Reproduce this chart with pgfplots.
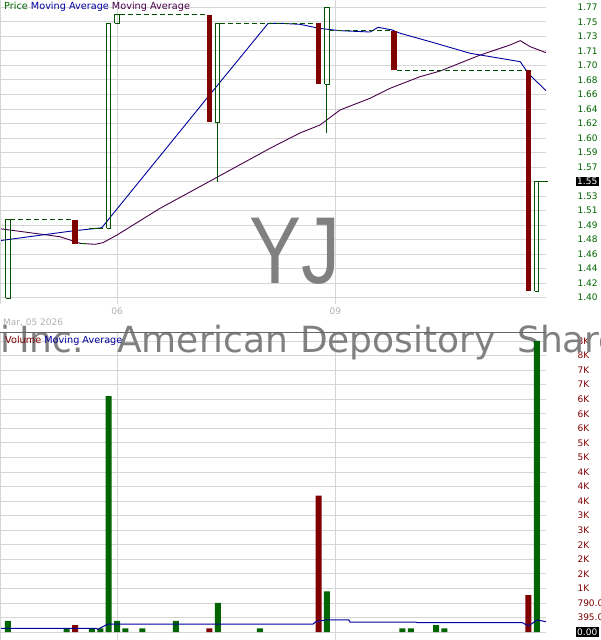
\documentclass[border=0pt]{standalone}
\usepackage{pgfplots}
\pgfplotsset{compat=1.18}
\usepackage{fontspec}
\setmainfont{DejaVu Sans}
\newfontfamily\wmfont{Liberation Sans}
\definecolor{pgreen}{RGB}{0,100,0}
\definecolor{cgreen}{RGB}{0,80,0}
\definecolor{cred}{RGB}{128,0,0}
\definecolor{mablue}{RGB}{0,0,160}
\definecolor{mapurple}{RGB}{72,0,72}
\definecolor{gridgray}{RGB}{214,214,214}
\definecolor{wmgray}{RGB}{128,128,128}
\definecolor{lblgray}{RGB}{176,176,176}
\definecolor{sepgray}{RGB}{100,100,100}
\pgfplotsset{
  redbody/.style={draw=none,fill=cred,forget plot},
  greenbody/.style={draw=cgreen,line width=1pt,fill=none,forget plot},
  gapline/.style={cgreen,line width=1pt,dash pattern=on 5pt off 3pt,forget plot},
}
\begin{document}
\begin{tikzpicture}[x=1pt,y=1pt,font=\fontsize{9}{10}\selectfont]
\useasboundingbox (0pt,0pt) rectangle (600pt,640pt);
\clip (0pt,0pt) rectangle (600pt,640pt);

% ---------------- price panel ----------------
\begin{axis}[at={(0pt,336pt)},anchor=south west,scale only axis,
  width=546pt,height=304pt,
  xmin=-0.95,xmax=64.1,ymin=1.39197,ymax=1.7793,
  axis line style={draw=none},major tick length=0pt,
  /pgf/number format/assume math mode=true,
  ytick={1.4000,1.4185,1.4370,1.4555,1.4740,1.4925,1.5110,1.5295,1.5480,1.5665,1.5850,1.6035,1.6220,1.6405,1.6590,1.6775,1.6960,1.7145,1.7330,1.7515,1.7700},
  yticklabels={1.40,1.42,1.44,1.46,1.48,1.49,1.51,1.53,1.55,1.57,1.59,1.60,1.62,1.64,1.66,1.68,1.70,1.71,1.73,1.75,1.77},
  yticklabel pos=right,
  yticklabel style={anchor=west,xshift=28pt,text=pgreen,font=\fontsize{9}{10}\selectfont},
  xtick={13,39},xticklabels={06,09},
  xticklabel style={text=lblgray,font=\fontsize{9}{10}\selectfont},
  xmajorgrids,ymajorgrids,
  grid style={gridgray,line width=0.8pt},
  clip=false]
\node[anchor=base,inner sep=0pt,text=wmgray,font=\wmfont\fontsize{95}{95}\selectfont,xscale=0.82] at (axis cs:34.15,1.4175) {YJ};
% moving averages
\addplot[mapurple,line width=0.9pt] coordinates {(-0.95,1.4879)(6.2,1.4777)(8.58,1.4693)(10.37,1.4680)(11.32,1.4701)(13.0,1.4799)(18.12,1.5139)(23.72,1.5465)(31.23,1.5904)(34.8,1.6099)(37.19,1.6201)(39.57,1.6392)(43.15,1.6541)(45.53,1.6668)(49.1,1.6816)(51.49,1.6888)(56.26,1.7092)(59.83,1.7220)(61.03,1.7275)(62.22,1.7198)(64.1,1.7122)};
\addplot[mablue,line width=0.9pt] coordinates {(-0.95,1.4727)(7.63,1.485)(10.97,1.4888)(11.2,1.4895)(23.72,1.6544)(31.0,1.7496)(32.8,1.7494)(34.8,1.7483)(37.07,1.7432)(39.57,1.7402)(43.15,1.7385)(44.1,1.7445)(45.77,1.7411)(46.72,1.7369)(50.3,1.7262)(55.06,1.7114)(61.03,1.7007)(61.98,1.6859)(64.1,1.6637)};
% gap lines
\addplot[gapline] coordinates {(0.3,1.499)(7.64,1.499)};
\addplot[gapline] coordinates {(13.3,1.7602)(23.64,1.7602)};
\addplot[gapline] coordinates {(25.3,1.7496)(36.64,1.7496)};
\addplot[gapline] coordinates {(38.3,1.7398)(45.64,1.7398)};
\addplot[gapline] coordinates {(46.36,1.6901)(61.64,1.6901)};
\addplot[cgreen,line width=1pt,forget plot] coordinates {(63.3,1.548)(64.3,1.548)};
% flat candles
\addplot[cgreen,line width=1pt,forget plot] coordinates {(8.7,1.4688)(9.3,1.4688)};
\addplot[cgreen,line width=1pt,forget plot] coordinates {(9.7,1.4884)(11.3,1.4884)};
% wicks
\addplot[cgreen,line width=1pt,forget plot] coordinates {(25,1.623)(25,1.5478)};
\addplot[cgreen,line width=1pt,forget plot] coordinates {(38,1.672)(38,1.6095)};
% red bodies
\addplot[redbody] coordinates {(7.68,1.499)(8.32,1.499)(8.32,1.4688)(7.68,1.4688)};
\addplot[redbody] coordinates {(23.68,1.7602)(24.32,1.7602)(24.32,1.6242)(23.68,1.6242)};
\addplot[redbody] coordinates {(36.68,1.7496)(37.32,1.7496)(37.32,1.6723)(36.68,1.6723)};
\addplot[redbody] coordinates {(45.68,1.7398)(46.32,1.7398)(46.32,1.6901)(45.68,1.6901)};
\addplot[redbody] coordinates {(61.68,1.6901)(62.32,1.6901)(62.32,1.409)(61.68,1.409)};
% green bodies
\addplot[greenbody] coordinates {(-0.26,1.3995)(0.26,1.3995)(0.26,1.499)(-0.26,1.499)(-0.26,1.3995)};
\addplot[greenbody] coordinates {(11.74,1.4884)(12.26,1.4884)(12.26,1.7496)(11.74,1.7496)(11.74,1.4884)};
\addplot[greenbody] coordinates {(12.74,1.7496)(13.26,1.7496)(13.26,1.7602)(12.74,1.7602)(12.74,1.7496)};
\addplot[greenbody] coordinates {(24.74,1.623)(25.26,1.623)(25.26,1.7496)(24.74,1.7496)(24.74,1.623)};
\addplot[greenbody] coordinates {(37.74,1.672)(38.26,1.672)(38.26,1.770)(37.74,1.770)(37.74,1.672)};
\addplot[greenbody] coordinates {(62.74,1.408)(63.26,1.408)(63.26,1.548)(62.74,1.548)(62.74,1.408)};
\end{axis}

% ---------------- volume panel ----------------
\begin{axis}[at={(0pt,0pt)},anchor=south west,scale only axis,
  width=546pt,height=308pt,
  xmin=-0.95,xmax=64.1,ymin=-217,ymax=8144,
  axis line style={draw=none},major tick length=0pt,
  /pgf/number format/assume math mode=true,
  ytick={0,395,790,1185,1580,1975,2370,2765,3160,3555,3950,4345,4740,5135,5530,5925,6320,6715,7110,7505,7900},
  yticklabels={0.00,395.0,790.0,1K,2K,2K,2K,3K,3K,4K,4K,4K,5K,5K,6K,6K,6K,7K,7K,8K,8K},
  yticklabel pos=right,
  yticklabel style={anchor=west,xshift=28pt,text=cred,font=\fontsize{9}{10}\selectfont},
  xtick={13,39},xticklabels={},
  xmajorgrids,ymajorgrids,
  grid style={gridgray,line width=0.8pt},
  ybar,bar width=6pt,bar shift=0pt,
  clip=false]
\node[anchor=base west,inner sep=0pt,text=wmgray,font=\fontsize{36}{36}\selectfont] at (axis cs:13,7575) {American Depository};
\node[anchor=base west,inner sep=0pt,text=wmgray,font=\fontsize{36}{36}\selectfont] at (axis cs:60.64,7575) {Shares};
\node[anchor=base east,inner sep=0pt,text=wmgray,font=\fontsize{36}{36}\selectfont] at (axis cs:9.06,7575) {Inc.};
\node[anchor=base east,inner sep=0pt,text=wmgray,font=\fontsize{36}{36}\selectfont] at (axis cs:0.35,7575) {Yunji};
\addplot[draw=none,fill=pgreen] coordinates {(0,300)(7,100)(10,100)(11,100)(12,6400)(13,300)(14,100)(16,100)(20,300)(25,790)(30,100)(38,1100)(47,100)(48,100)(51,190)(52,100)(63,7900)};
\addplot[draw=none,fill=cred] coordinates {(8,190)(24,100)(37,3700)(62,1000)};
\addplot[sharp plot,mablue,line width=1pt] coordinates {(-0.95,100)(10.5,100)(10.7,73)(11.3,144)(11.9,217)(36.35,217)(36.7,280)(37.8,326)(40.6,326)(40.76,271)(48.6,271)(48.75,252)(61.3,252)(62.0,163)(63.05,326)(64.1,280)};
\end{axis}

% ---------------- decorations ----------------
\draw[gridgray,line width=0.8pt] (0.4pt,336pt) -- (0.4pt,640pt);
\draw[gridgray,line width=0.8pt] (0.4pt,0pt) -- (0.4pt,308pt);
\draw[sepgray,line width=0.8pt] (0pt,308pt) -- (546pt,308pt);
\node[anchor=west,inner sep=0pt,font=\fontsize{9.7}{11}\selectfont] at (4pt,633pt) {\textcolor{pgreen}{Price} \textcolor{mablue}{Moving Average} \textcolor{mapurple}{Moving Average}};
\node[anchor=west,inner sep=0pt,text=lblgray] at (3pt,317pt) {Mar, 05 2026};
\node[anchor=west,inner sep=0pt,font=\fontsize{9.7}{11}\selectfont] at (5pt,299pt) {\textcolor{cred}{Volume} \textcolor{mablue}{Moving Average}};
\node[anchor=west,fill=black,text=white,inner sep=1.5pt] at (575.5pt,458.5pt) {1.55};
\node[anchor=west,fill=black,text=white,inner sep=1.5pt] at (575.5pt,8pt) {0.00};
\end{tikzpicture}
\end{document}
